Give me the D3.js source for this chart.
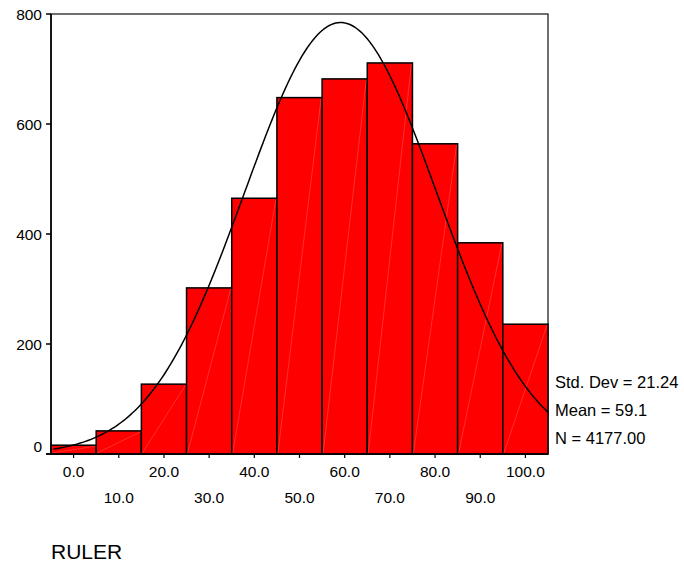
<!DOCTYPE html>
<html>
<head>
<meta charset="utf-8">
<script src="https://cdn.jsdelivr.net/npm/d3@7"></script>
<style>
  body { margin: 0; background: #fff; }
  text { font-family: Arial, "Liberation Sans", sans-serif; fill: #000; }
</style>
</head>
<body>
<svg id="hist" width="684" height="567"></svg>
<script>
// histogram bins (centre of each bin) and counts
var binCenters = [0, 10, 20, 30, 40, 50, 60, 70, 80, 90, 100];
var counts = [16, 42, 127, 302, 465, 648, 682, 711, 564, 384, 236];
var yTicks = [0, 200, 400, 600, 800];
var xTicks = [0, 10, 20, 30, 40, 50, 60, 70, 80, 90, 100];
var statStd = 21.24, statMean = 59.1, statN = 4177;
var binWidth = 10;
var varName = "RULER";

var svg = d3.select("#hist");
var plotLeft = 51, plotRight = 548, plotTop = 14, plotBottom = 454;

var x = d3.scaleLinear().domain([-5, 105]).range([plotLeft, plotRight]);
var y = d3.scaleLinear().domain([0, 800]).range([plotBottom, plotTop]);

// frame
svg.append("rect")
      .attr("x", plotLeft).attr("y", plotTop)
      .attr("width", plotRight - plotLeft).attr("height", plotBottom - plotTop)
      .attr("fill", "none").attr("stroke", "#222").attr("stroke-width", 1.3);

// bars
var bars = svg.append("g");
bars.selectAll("rect")
      .data(counts)
      .enter()
      .append("rect")
      .attr("x", function(d, i) { return x(binCenters[i] - binWidth / 2); })
      .attr("y", function(d) { return y(d); })
      .attr("width", function(d, i) { return x(binCenters[i] + binWidth / 2) - x(binCenters[i] - binWidth / 2); })
      .attr("height", function(d) { return y(0) - y(d); })
      .attr("fill", "#ff0000")
      .attr("stroke", "#000")
      .attr("stroke-width", 1.5);

// faint seam line across each bar
bars.selectAll("line")
      .data(counts)
      .enter()
      .append("line")
      .attr("x1", function(d, i) { return x(binCenters[i] - binWidth / 2) + 1; })
      .attr("y1", y(0) - 1)
      .attr("x2", function(d, i) { return x(binCenters[i] + binWidth / 2) - 1; })
      .attr("y2", function(d) { return y(d) + 1; })
      .attr("stroke", "#ffffff")
      .attr("stroke-opacity", 0.3)
      .attr("stroke-width", 0.6);

// normal curve from the listed statistics
var area = statN * binWidth;
var curve = d3.range(-4.5, 105.01, 0.5).map(function(v) {
      var z = (v - statMean) / statStd;
      return [v, area / (statStd * Math.sqrt(2 * Math.PI)) * Math.exp(-0.5 * z * z)];
});
svg.append("path")
      .datum(curve)
      .attr("fill", "none")
      .attr("stroke", "#000")
      .attr("stroke-width", 1.5)
      .attr("d", d3.line().x(function(d) { return x(d[0]); }).y(function(d) { return y(d[1]); }));

// y axis
var yAxis = svg.append("g").attr("transform", "translate(" + plotLeft + ",0)");
yAxis.append("line").attr("x1", 0).attr("x2", 0).attr("y1", plotTop).attr("y2", plotBottom + 1)
      .attr("stroke", "#000").attr("stroke-width", 1.6);
yAxis.selectAll("line.tick")
      .data(yTicks).enter().append("line")
      .attr("class", "tick")
      .attr("x1", -5).attr("x2", 0)
      .attr("y1", function(d) { return y(d); }).attr("y2", function(d) { return y(d); })
      .attr("stroke", "#000").attr("stroke-width", 1.5);
yAxis.selectAll("text")
      .data(yTicks).enter().append("text")
      .attr("x", -9)
      .attr("y", function(d) { return d === 0 ? y(d) - 8 : y(d); })
      .attr("dy", "0.36em")
      .attr("text-anchor", "end")
      .style("font-size", "15.5px")
      .text(function(d) { return d; });

// x axis
var xAxis = svg.append("g").attr("transform", "translate(0," + plotBottom + ")");
xAxis.append("line").attr("x1", plotLeft - 5).attr("x2", plotRight).attr("y1", 0).attr("y2", 0)
      .attr("stroke", "#000").attr("stroke-width", 1.6);
xAxis.selectAll("line.tick")
      .data(xTicks).enter().append("line")
      .attr("class", "tick")
      .attr("x1", function(d) { return x(d); }).attr("x2", function(d) { return x(d); })
      .attr("y1", 0).attr("y2", 4)
      .attr("stroke", "#000").attr("stroke-width", 1.2);
xAxis.selectAll("text")
      .data(xTicks).enter().append("text")
      .attr("x", function(d) { return x(d); })
      .attr("y", function(d, i) { return i % 2 === 0 ? 23 : 49; })
      .attr("text-anchor", "middle")
      .style("font-size", "15.5px")
      .text(function(d) { return d3.format(".1f")(d); });

// statistics
var stats = ["Std. Dev = " + statStd.toFixed(2), "Mean = " + statMean.toFixed(1), "N = " + statN.toFixed(2)];
svg.selectAll("text.stat")
      .data(stats).enter().append("text")
      .attr("class", "stat")
      .attr("x", 555)
      .attr("y", function(d, i) { return 388 + i * 28; })
      .style("font-size", "16.5px")
      .text(function(d) { return d; });

// variable name
svg.append("text")
      .attr("x", 51).attr("y", 559)
      .style("font-size", "21px")
      .text(varName);
</script>
</body>
</html>
